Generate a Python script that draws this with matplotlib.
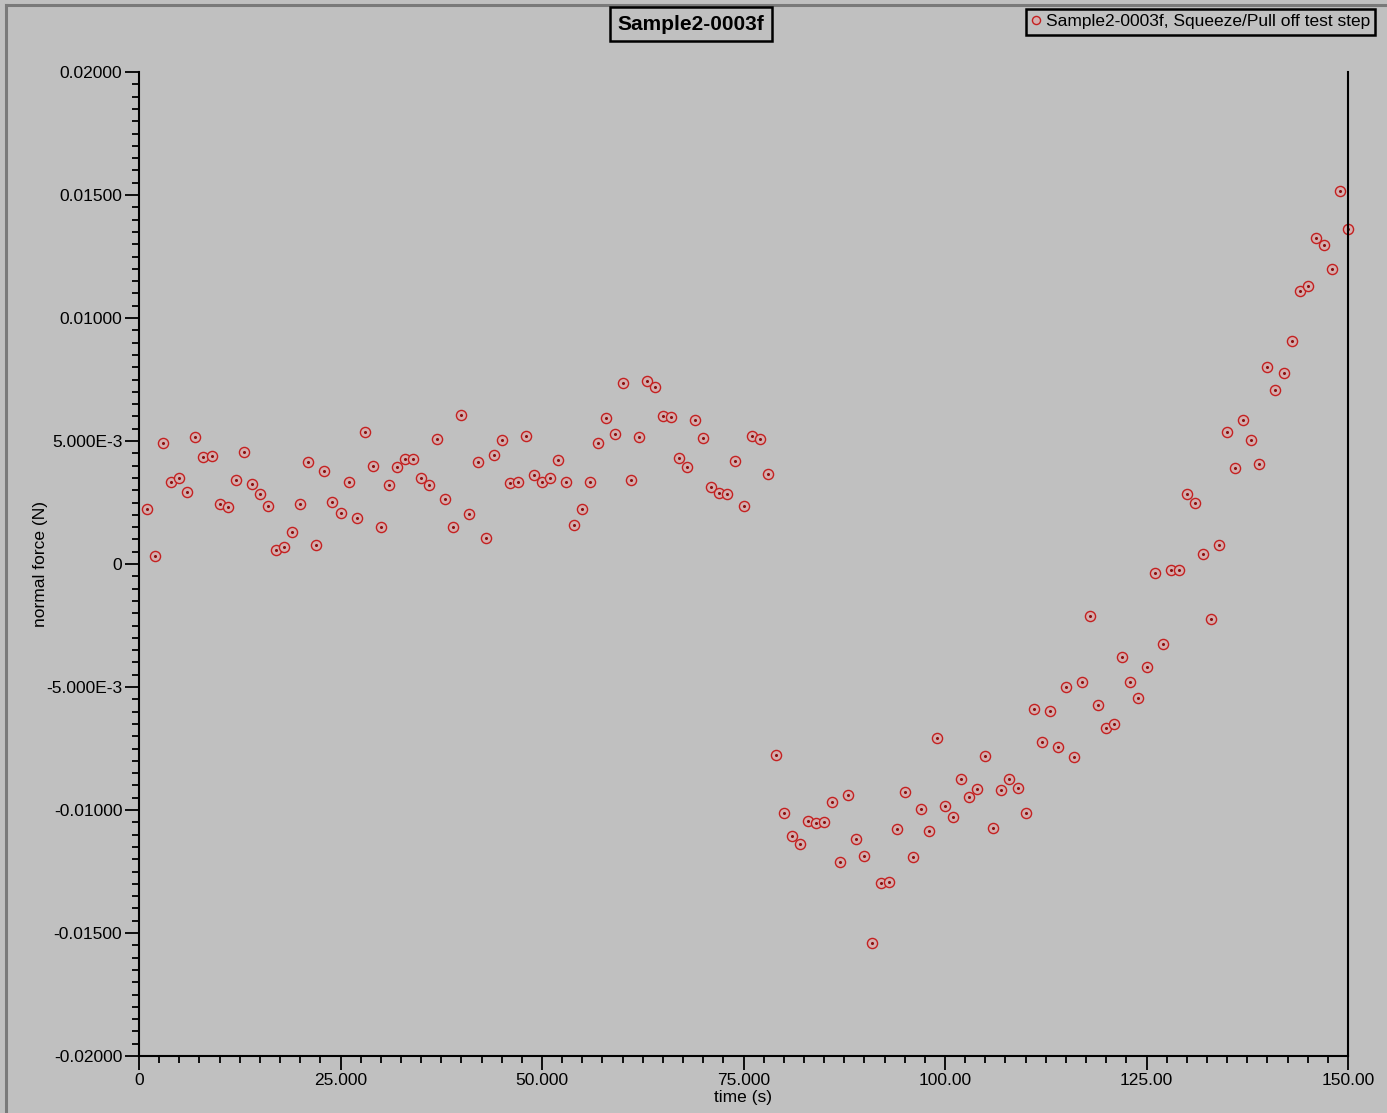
import matplotlib
matplotlib.use('Agg')
import matplotlib.pyplot as plt
from matplotlib.ticker import FixedLocator, FixedFormatter, MultipleLocator
from matplotlib.lines import Line2D

# datos (un punto por segundo)
tiempo = list(range(1, 151))
fuerza_normal = [
    0.00224, 0.00033, 0.00492, 0.00333, 0.00350, 0.00293, 0.00516, 0.00435, 0.00439, 0.00244,
    0.00232, 0.00341, 0.00455, 0.00325, 0.00285, 0.00236, 0.00057, 0.00069, 0.00130, 0.00244,
    0.00415, 0.00077, 0.00378, 0.00252, 0.00207, 0.00333, 0.00187, 0.00537, 0.00398, 0.00150,
    0.00321, 0.00394, 0.00427, 0.00427, 0.00350, 0.00321, 0.00508, 0.00264, 0.00150, 0.00606,
    0.00203, 0.00415, 0.00106, 0.00443, 0.00504, 0.00329, 0.00333, 0.00520, 0.00362, 0.00333,
    0.00350, 0.00423, 0.00333, 0.00159, 0.00224, 0.00333, 0.00492, 0.00593, 0.00528, 0.00736,
    0.00341, 0.00516, 0.00744, 0.00720, 0.00602, 0.00598, 0.00431, 0.00394, 0.00585, 0.00512,
    0.00313, 0.00289, 0.00285, 0.00419, 0.00236, 0.00520, 0.00508, 0.00366, -0.00776, -0.01012,
    -0.01106, -0.01138, -0.01045, -0.01053, -0.01049, -0.00967, -0.01211, -0.00939, -0.01118, -0.01187,
    -0.01541, -0.01297, -0.01293, -0.01077, -0.00927, -0.01191, -0.00996, -0.01085, -0.00707, -0.00984,
    -0.01028, -0.00874, -0.00947, -0.00915, -0.00780, -0.01073, -0.00919, -0.00874, -0.00911, -0.01012,
    -0.00589, -0.00724, -0.00598, -0.00744, -0.00500, -0.00785, -0.00480, -0.00211, -0.00573, -0.00667,
    -0.00650, -0.00378, -0.00480, -0.00545, -0.00419, -0.00037, -0.00325, -0.00024, -0.00024, 0.00285,
    0.00248, 0.00041, -0.00224, 0.00077, 0.00537, 0.00390, 0.00585, 0.00504, 0.00407, 0.00801,
    0.00707, 0.00776, 0.00907, 0.01110, 0.01130, 0.01325, 0.01297, 0.01199, 0.01516, 0.01362,
]

titulo = 'Sample2-0003f'
etiqueta_serie = 'Sample2-0003f, Squeeze/Pull off test step'
etiqueta_x = 'time (s)'
etiqueta_y = 'normal force (N)'
x_ticks = [0, 25, 50, 75, 100, 125, 150]
x_tick_labels = ['0', '25.000', '50.000', '75.000', '100.00', '125.00', '150.00']
y_ticks = [-0.02, -0.015, -0.01, -0.005, 0, 0.005, 0.01, 0.015, 0.02]
y_tick_labels = ['-0.02000', '-0.01500', '-0.01000', '-5.000E-3', '0',
                 '5.000E-3', '0.01000', '0.01500', '0.02000']

fondo = '#c0c0c0'
plt.rcParams['font.family'] = ['Liberation Sans', 'DejaVu Sans']

W, H = 1387, 1113
fig = plt.figure(figsize=(W / 100, H / 100), dpi=100, facecolor=fondo)
ax = fig.add_axes([139 / W, 1 - 1056 / H, (1348 - 139) / W, (1056 - 72) / H])
ax.set_facecolor(fondo)

# borde gris solo arriba y a la izquierda
fig.add_artist(Line2D([6 / W, 6 / W], [0, 1 - 5 / H], transform=fig.transFigure,
                      color='#7a7a7a', linewidth=2.2))
fig.add_artist(Line2D([6 / W, 1], [1 - 5 / H, 1 - 5 / H], transform=fig.transFigure,
                      color='#7a7a7a', linewidth=2.2))

linea, = ax.plot(tiempo, fuerza_normal, linestyle='none', marker='o', markersize=7.3,
                 markerfacecolor='#d4b0b0', markeredgecolor='#c42020',
                 markeredgewidth=1.0, label=etiqueta_serie, clip_on=False)
ax.plot(tiempo, fuerza_normal, linestyle='none', marker='o', markersize=1.2,
        color='#8a1010', clip_on=False)

ax.set_xlim(0, 150)
ax.set_ylim(-0.02, 0.02)

ax.xaxis.set_major_locator(FixedLocator(x_ticks))
ax.xaxis.set_major_formatter(FixedFormatter(x_tick_labels))
ax.xaxis.set_minor_locator(MultipleLocator(2.5))
ax.yaxis.set_major_locator(FixedLocator(y_ticks))
ax.yaxis.set_major_formatter(FixedFormatter(y_tick_labels))
ax.yaxis.set_minor_locator(MultipleLocator(0.0005))

ax.tick_params(which='major', direction='out', length=10, width=1.3, labelsize=12.5,
               colors='black', pad=2)
ax.tick_params(which='minor', direction='out', length=5, width=1.3)

for lado in ['left', 'bottom', 'right']:
    ax.spines[lado].set_color('black')
    ax.spines[lado].set_linewidth(1.5)
ax.spines['top'].set_visible(False)

ax.set_xlabel(etiqueta_x, fontsize=12.5)
ax.set_ylabel(etiqueta_y, fontsize=12.5)
ax.xaxis.set_label_coords(0.5, (1056 - 1090) / 984)
ax.yaxis.set_label_coords((48 - 139) / 1209, 0.5)

fig.text(691 / W, 1 - 24 / H, titulo, ha='center', va='center', fontsize=15,
         fontweight='bold',
         bbox=dict(boxstyle='square,pad=0.35', facecolor=fondo, edgecolor='black',
                   linewidth=1.8))

fig.legend(handles=[linea], loc='upper right', bbox_to_anchor=(1375 / W, 1 - 9 / H),
           frameon=True, fancybox=False, facecolor=fondo, edgecolor='black',
           framealpha=1, fontsize=12.5, markerscale=0.8, handlelength=0.5,
           handletextpad=0.3, borderpad=0.3, borderaxespad=0)
fig.legends[0].get_frame().set_linewidth(1.8)

fig.savefig('out.png', dpi=100, facecolor=fondo)
